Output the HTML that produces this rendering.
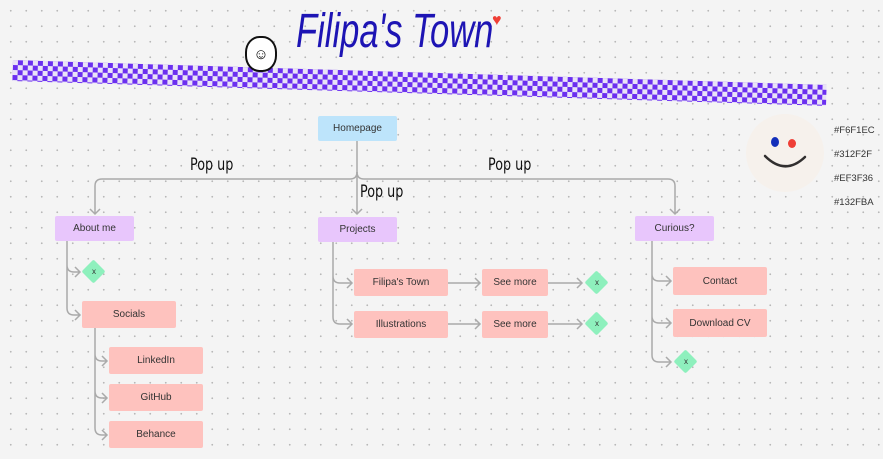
<!DOCTYPE html>
<html><head><meta charset="utf-8"><style>
body{margin:0;width:883px;height:459px;overflow:hidden;background:#f4f4f4;
background-image:radial-gradient(circle,#b8b8b8 0.7px,transparent 1.1px);background-size:15.5px 15.5px;background-position:3px 3px;font-family:"Liberation Sans",sans-serif;position:relative}
.b{position:absolute;display:flex;align-items:center;justify-content:center;font-size:10px;color:#333;border-radius:2px}
.p{background:#e8c6fc}.r{background:#fec2be}
.d{position:absolute;width:17px;height:17px;background:#8ef0bd;transform:rotate(45deg);border-radius:2px}
.dx{position:absolute;font-size:8px;color:#333;width:20px;text-align:center}
.h{position:absolute;font-size:9.5px;color:#333}
.pu{position:absolute;font-family:"DejaVu Sans",sans-serif;font-size:17px;color:#111;transform:scaleX(0.75);transform-origin:left}
</style></head><body>
<div style="position:absolute;left:13px;top:60px;width:814px;height:21px;transform:rotate(1.75deg);transform-origin:left top;background:repeating-conic-gradient(#6b2ff0 0 25%,#e9e3f7 0 50%) 0 0/10px 10px"></div>
<div style="position:absolute;left:296px;top:4px;font-family:'Liberation Sans',sans-serif;font-style:italic;font-size:48px;color:#1d14b4;transform:scaleX(0.72);transform-origin:left">Filipa's Town</div>
<div style="position:absolute;left:492px;top:12px;color:#ef3f36;font-size:16px">♥</div>
<div style="position:absolute;left:245px;top:36px;width:28px;height:32px;border:2px solid #111;border-radius:45%;background:#fff;display:flex;align-items:center;justify-content:center;font-size:15px">☺</div>
<svg width="883" height="459" style="position:absolute;left:0;top:0" fill="none" stroke="#aaa" stroke-width="1.5">
<path d="M357 141V172q0 7 -7 7H102q-7 0 -7 7V214"/><path d="M357 172q0 7 7 7H668q7 0 7 7V214"/><path d="M357 172V214"/>
<path d="M90 209l5 5 5-5M352 209l5 5 5-5M670 209l5 5 5-5"/>
<path d="M67 241V308q0 7 7 7H80M67 265q0 7 7 7H80M75 267l5 5-5 5M75 310l5 5-5 5"/>
<path d="M95 328V428q0 7 7 7H107M95 354q0 7 7 7H107M95 391q0 7 7 7H107M102 356l5 5-5 5M102 393l5 5-5 5M102 430l5 5-5 5"/>
<path d="M333 242V317q0 7 7 7H352M333 276q0 7 7 7H352M347 278l5 5-5 5M347 319l5 5-5 5"/>
<path d="M448 283H480M548 283H582M448 324H480M548 324H582M475 278l5 5-5 5M577 278l5 5-5 5M475 319l5 5-5 5M577 319l5 5-5 5"/>
<path d="M652 241V355q0 7 7 7H671M652 274q0 7 7 7H671M652 316q0 7 7 7H671M666 276l5 5-5 5M666 318l5 5-5 5M666 357l5 5-5 5"/>
</svg>
<div class="pu" style="left:190px;top:155px">Pop up</div>
<div class="pu" style="left:488px;top:155px">Pop up</div>
<div class="pu" style="left:360px;top:182px">Pop up</div>
<div class="b" style="left:318px;top:116px;width:79px;height:25px;background:#bde4fb">Homepage</div>
<div class="b p" style="left:55px;top:216px;width:79px;height:25px">About me</div>
<div class="b p" style="left:318px;top:217px;width:79px;height:25px">Projects</div>
<div class="b p" style="left:635px;top:216px;width:79px;height:25px">Curious?</div>
<div class="b r" style="left:82px;top:301px;width:94px;height:27px">Socials</div>
<div class="b r" style="left:109px;top:347px;width:94px;height:27px">LinkedIn</div>
<div class="b r" style="left:109px;top:384px;width:94px;height:27px">GitHub</div>
<div class="b r" style="left:109px;top:421px;width:94px;height:27px">Behance</div>
<div class="b r" style="left:354px;top:269px;width:94px;height:27px">Filipa's Town</div>
<div class="b r" style="left:354px;top:311px;width:94px;height:27px">Illustrations</div>
<div class="b r" style="left:482px;top:269px;width:66px;height:27px">See more</div>
<div class="b r" style="left:482px;top:311px;width:66px;height:27px">See more</div>
<div class="b r" style="left:673px;top:267px;width:94px;height:28px">Contact</div>
<div class="b r" style="left:673px;top:309px;width:94px;height:28px">Download CV</div>
<div class="d" style="left:85px;top:263px"></div><div class="dx" style="left:84px;top:267px">x</div>
<div class="d" style="left:588px;top:274px"></div><div class="dx" style="left:587px;top:278px">x</div>
<div class="d" style="left:588px;top:315px"></div><div class="dx" style="left:587px;top:319px">x</div>
<div class="d" style="left:677px;top:353px"></div><div class="dx" style="left:676px;top:357px">x</div>
<div style="position:absolute;left:746px;top:114px;width:78px;height:78px;border-radius:50%;background:#f6f1ec"></div>
<div style="position:absolute;left:771px;top:137px;width:8px;height:10px;border-radius:50%;background:#132fba"></div>
<div style="position:absolute;left:788px;top:139px;width:8px;height:9px;border-radius:50%;background:#ef3f36"></div>
<svg width="883" height="459" style="position:absolute;left:0;top:0"><path d="M765 156q20 20 40 1" stroke="#312f2f" stroke-width="2.5" fill="none" stroke-linecap="round"/></svg>
<div class="h" style="left:834px;top:125px">#F6F1EC</div>
<div class="h" style="left:834px;top:149px">#312F2F</div>
<div class="h" style="left:834px;top:173px">#EF3F36</div>
<div class="h" style="left:834px;top:197px">#132FBA</div>
</body></html>
